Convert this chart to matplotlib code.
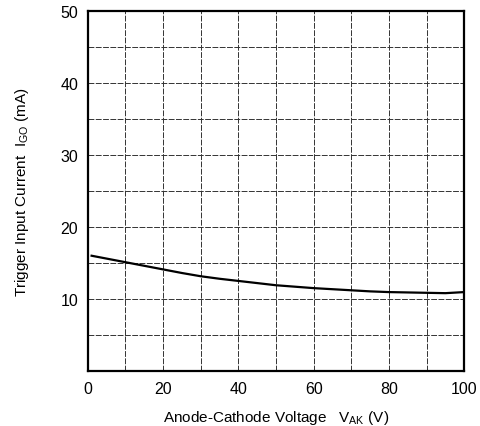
import matplotlib
matplotlib.use("Agg")
import matplotlib.pyplot as plt
from matplotlib.ticker import MultipleLocator

plt.rcParams['font.family'] = ['Liberation Sans Narrow', 'Liberation Sans', 'DejaVu Sans']

vak = [1, 5, 10, 15, 20, 25, 30, 35, 40, 45, 50, 55, 60, 65, 70, 75, 80, 85, 90, 95, 100]
igo = [16.0, 15.6, 15.1, 14.6, 14.1, 13.6, 13.15, 12.8, 12.5, 12.2, 11.9, 11.7, 11.5, 11.35, 11.2, 11.05, 10.95, 10.9, 10.85, 10.8, 10.95]

x_ticks = [0, 20, 40, 60, 80, 100]
y_ticks = [10, 20, 30, 40, 50]

fig = plt.figure(figsize=(4.8, 4.27), dpi=100)
ax = fig.add_axes([0.183, 0.129, 0.784, 0.843])
ax.plot(vak, igo, color='black', lw=1.6)
ax.set_xlim(0, 100)
ax.set_ylim(0, 50)
ax.set_xticks(x_ticks)
ax.set_yticks(y_ticks)
ax.xaxis.set_minor_locator(MultipleLocator(10))
ax.yaxis.set_minor_locator(MultipleLocator(5))
ax.grid(True, which='both', color='#333333', lw=0.7, ls=(0, (6, 1.5)))
ax.tick_params(which='both', length=0, labelsize=11.5, pad=7)
for s in ax.spines.values():
    s.set_linewidth(1.6)
ax.set_xlabel('Anode-Cathode Voltage   V$_{\\mathregular{AK}}$ (V)', fontsize=11, labelpad=9)
ax.set_ylabel('Trigger Input Current  I$_{\\mathregular{GO}}$ (mA)', fontsize=11, labelpad=21)
fig.savefig('out.png', dpi=100)
